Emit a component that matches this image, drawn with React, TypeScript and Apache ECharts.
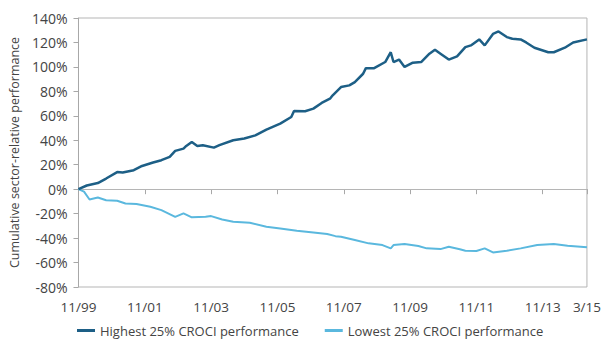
import React, { useEffect, useRef } from "react";
import * as echarts from "echarts";

// months since 11/1999
const highMonths = [0,3,7,10,14,16,20,23,27,30,33,35,38,39,41,43,45,49,51,56,60,64,68,73,77,78,82,85,88,91,92,95,98,100,103,104,107,111,113,114,116,118,121,124,127,129,131,134,137,140,142,145,147,150,152,155,157,160,162,165,170,172,176,179,184];
const highValues = [0,3,5,8.7,14,13.6,15.5,19,21.8,23.7,26.4,31.3,33.2,35.4,38.6,35.4,35.9,34,36,40,41.4,44,48.7,53.6,59,64,63.7,65.9,70.5,74,76.8,83.5,84.9,87.6,94.4,99,99,104,112,104,106,100,103.5,104,110.8,114,110.8,106,108.6,116.2,117.6,122.5,117.6,127,129,124.4,123,122.5,120,115.7,112,112,115.7,120,122.5];

const lowMonths = [0,2,4,7,10,14,17,21,26,30,35,38,41,46,48,52,56,62,68,73,79,85,90,93,95,100,105,110,113,114,118,123,126,131,134,138,140,144,147,150,155,160,166,172,177,184];
const lowValues = [0,-2,-8.4,-6.8,-9,-9.5,-11.7,-12.2,-14.4,-17.1,-22.6,-19.8,-23,-22.6,-22,-24.8,-26.7,-27.5,-30.8,-32.1,-34,-35.4,-36.7,-38.4,-38.9,-41.6,-44.3,-45.7,-48.4,-45.7,-44.9,-46.5,-48.4,-49,-47.1,-49.2,-50.4,-50.6,-48.4,-51.7,-50.4,-48.4,-45.7,-44.9,-46.3,-47.5];

const seriesNames = ["Highest 25% CROCI performance", "Lowest 25% CROCI performance"];
const yTicks = { min: -80, max: 140, interval: 20 };
const startYear = 1999;
const startMonth = 11;

const FONT = "Open Sans";

function monthLabel(v: number): string {
  const total = startYear * 12 + (startMonth - 1) + Math.round(v);
  const y = Math.floor(total / 12);
  const m = (total % 12) + 1;
  return m + "/" + String(y % 100).padStart(2, "0");
}

export default function App() {
  const ref = useRef<HTMLDivElement>(null);
  useEffect(() => {
    const chart = echarts.init(ref.current!, null, { renderer: "svg" });
    const high = highMonths.map((m, i) => [m, highValues[i]]);
    const low = lowMonths.map((m, i) => [m, lowValues[i]]);
    chart.setOption({
      animation: false,
      textStyle: { fontFamily: FONT },
      grid: {
        left: 74,
        right: 11,
        top: 18,
        bottom: 55,
        show: true,
        borderColor: "#b5b5b5",
        borderWidth: 1,
      },
      legend: {
        top: 324,
        left: 77,
        padding: 0,
        itemWidth: 18,
        itemHeight: 3,
        itemGap: 26,
        icon: "rect",
        textStyle: { fontFamily: FONT, fontSize: 13, color: "#444" },
        data: seriesNames,
      },
      xAxis: {
        type: "value",
        min: 0,
        max: 184,
        interval: 24,
        axisLine: { show: true, lineStyle: { color: "#a8a8a8", width: 1 } },
        axisTick: { show: true, length: 5, lineStyle: { color: "#a8a8a8" } },
        splitLine: { show: false },
        axisLabel: {
          color: "#444",
          fontSize: 13.5,
          fontFamily: FONT,
          margin: 13,
          formatter: (v: number) => monthLabel(v),
        },
      },
      yAxis: {
        type: "value",
        min: yTicks.min,
        max: yTicks.max,
        interval: yTicks.interval,
        name: "Cumulative sector-relative performance",
        nameLocation: "middle",
        nameGap: 53,
        nameTextStyle: { color: "#444", fontSize: 12.5, fontFamily: FONT },
        axisLine: { show: true, lineStyle: { color: "#a8a8a8", width: 1 } },
        axisTick: { show: true, length: 5, lineStyle: { color: "#a8a8a8" } },
        splitLine: { show: false },
        axisLabel: {
          color: "#444",
          fontSize: 14,
          fontFamily: FONT,
          margin: 11,
          formatter: "{value}%",
        },
      },
      series: [
        {
          name: seriesNames[0],
          type: "line",
          data: high,
          showSymbol: false,
          symbol: "none",
          lineStyle: { color: "#1d5f86", width: 2.5 },
          itemStyle: { color: "#1d5f86" },
          z: 3,
          markLine: {
            silent: true,
            symbol: "none",
            label: { show: false },
            lineStyle: { color: "#b5b5b5", width: 1, type: "solid" },
            data: [{ yAxis: 0 }],
            z: 1,
          },
        },
        {
          name: seriesNames[1],
          type: "line",
          data: low,
          showSymbol: false,
          symbol: "none",
          lineStyle: { color: "#5ab8de", width: 2 },
          itemStyle: { color: "#5ab8de" },
          z: 2,
        },
      ],
    });
    return () => chart.dispose();
  }, []);
  return <div ref={ref} style={{ width: 604, height: 342, position: "absolute", left: 0, top: 0 }} />;
}
